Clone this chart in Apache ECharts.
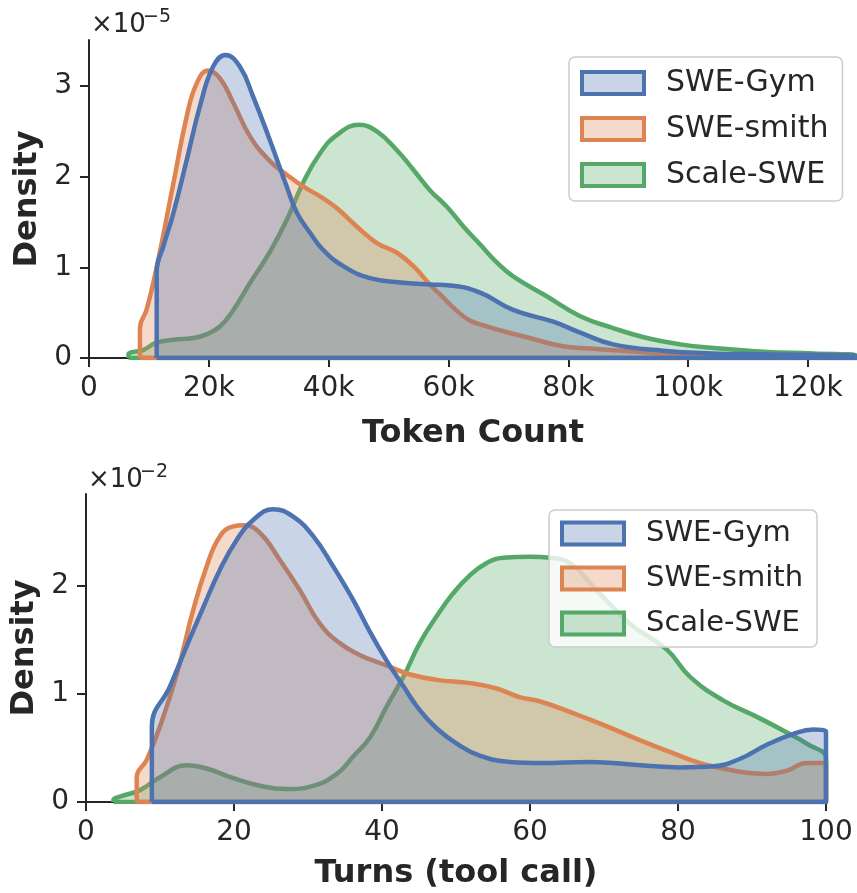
<!DOCTYPE html>
<html>
<head>
<meta charset="utf-8">
<script src="https://cdn.jsdelivr.net/npm/echarts@6/dist/echarts.min.js"></script>
<style>
html,body{margin:0;padding:0;background:#fff;}
#chart{width:857px;height:893px;}
</style>
</head>
<body>
<div id="chart"></div>
<script>
// ---------- DATA ----------
const seriesNames = ['SWE-Gym', 'SWE-smith', 'Scale-SWE'];
const seriesColors = ['#4C72B0', '#DD8452', '#55A868'];

// Top panel: Token Count (thousands of tokens), density in units of 1e-5
const tokenXTicks = [0, 20, 40, 60, 80, 100, 120];
const tokenYTicks = [0, 1, 2, 3];
const gymTokenX = [11.3, 11.3, 12.5, 14.1, 16.3, 18.5, 20.7, 22.8, 25.2, 27.4, 30.2, 33.0, 34.7, 36.9, 39.1, 42.5, 46.9, 52.5, 56.9, 60.3, 65.3, 70.8, 77.5, 82.0, 87.5, 95.8, 104.0, 112.5, 128.0, 128.0, 11.3];
const gymTokenY = [0, 0.95, 1.25, 1.60, 2.18, 2.77, 3.21, 3.34, 3.21, 2.88, 2.40, 1.89, 1.60, 1.38, 1.19, 1.01, 0.88, 0.83, 0.81, 0.80, 0.72, 0.53, 0.40, 0.28, 0.15, 0.08, 0.05, 0.04, 0.02, 0, 0];
const smithTokenX = [8.5, 8.5, 9.6, 11.3, 14.1, 16.3, 18.0, 19.9, 21.9, 24.1, 26.9, 30.2, 33.0, 35.8, 39.1, 41.4, 44.7, 48.0, 51.4, 54.2, 56.9, 58.6, 62.5, 65.3, 73.6, 79.1, 84.8, 93.2, 101.5, 120.0, 128.0, 128.0, 8.5];
const smithTokenY = [0, 0.33, 0.53, 1.00, 1.93, 2.66, 3.03, 3.17, 3.08, 2.81, 2.44, 2.17, 2.02, 1.89, 1.76, 1.65, 1.45, 1.27, 1.16, 1.01, 0.81, 0.70, 0.46, 0.37, 0.22, 0.13, 0.10, 0.06, 0.03, 0.01, 0.01, 0, 0];
const scaleTokenX = [6.6, 6.6, 9.1, 11.3, 14.1, 17.4, 19.6, 21.9, 24.1, 26.9, 30.2, 33.0, 35.8, 38.6, 41.4, 45.1, 48.0, 51.4, 54.2, 56.9, 59.7, 62.5, 65.3, 68.1, 70.8, 76.4, 82.0, 87.5, 93.1, 98.7, 104.2, 112.6, 120.9, 128.0, 128.0, 6.6];
const scaleTokenY = [0, 0.04, 0.09, 0.17, 0.20, 0.22, 0.26, 0.35, 0.53, 0.83, 1.17, 1.52, 1.94, 2.26, 2.46, 2.57, 2.50, 2.29, 2.07, 1.85, 1.67, 1.45, 1.25, 1.05, 0.90, 0.68, 0.46, 0.33, 0.22, 0.15, 0.11, 0.07, 0.05, 0.03, 0, 0];

// Bottom panel: Turns (tool call), density in units of 1e-2
const turnXTicks = [0, 20, 40, 60, 80, 100];
const turnYTicks = [0, 1, 2];
const gymTurnX = [8.9, 8.9, 11.35, 13.6, 15.9, 18.1, 20.4, 22.6, 25.3, 28.0, 30.7, 33.4, 36.1, 38.4, 40.6, 42.9, 45.1, 47.4, 50.1, 53.2, 57.3, 61.4, 68.1, 74.9, 80.3, 84.8, 88.4, 92.0, 95.6, 98.3, 100, 100, 8.9];
const gymTurnY = [0, 0.70, 1.07, 1.44, 1.81, 2.15, 2.43, 2.61, 2.71, 2.64, 2.46, 2.18, 1.87, 1.57, 1.31, 1.07, 0.85, 0.68, 0.54, 0.43, 0.37, 0.36, 0.37, 0.34, 0.32, 0.33, 0.40, 0.53, 0.63, 0.67, 0.65, 0, 0];
const smithTurnX = [6.85, 6.85, 8.2, 10.0, 12.3, 14.5, 16.3, 18.1, 19.9, 21.3, 23.5, 26.2, 28.9, 31.6, 34.3, 37.0, 38.4, 41.1, 43.8, 47.4, 51.9, 55.5, 58.6, 61.4, 65.9, 70.4, 74.9, 79.4, 83.0, 86.1, 89.3, 92.0, 94.7, 97.4, 100, 100, 6.85];
const smithTurnY = [0, 0.23, 0.39, 0.70, 1.19, 1.78, 2.18, 2.46, 2.55, 2.56, 2.49, 2.24, 1.96, 1.65, 1.47, 1.36, 1.32, 1.25, 1.18, 1.13, 1.10, 1.05, 0.97, 0.93, 0.82, 0.70, 0.57, 0.45, 0.36, 0.31, 0.27, 0.26, 0.29, 0.36, 0.36, 0, 0];
const scaleTurnX = [3.7, 3.7, 4.6, 7.3, 10.0, 13.6, 16.3, 19.9, 23.5, 27.1, 30.7, 33.9, 36.1, 38.4, 40.6, 42.9, 45.1, 47.4, 49.6, 51.9, 54.1, 56.4, 60.0, 62.7, 65.4, 69.0, 73.5, 78.5, 81.6, 86.1, 90.6, 95.1, 97.4, 100, 100, 3.7];
const scaleTurnY = [0, 0.02, 0.05, 0.11, 0.23, 0.34, 0.31, 0.22, 0.15, 0.12, 0.15, 0.26, 0.42, 0.60, 0.88, 1.16, 1.47, 1.72, 1.93, 2.10, 2.21, 2.26, 2.27, 2.26, 2.21, 1.96, 1.65, 1.41, 1.16, 0.94, 0.79, 0.63, 0.54, 0.40, 0, 0];

// ---------- CHART ----------
const FONT = 'DejaVu Sans';
const INK = '#262626';
const zip = (xs, ys) => xs.map((x, i) => [x, ys[i]]);
function hexA(hex, a) {
  const n = parseInt(hex.slice(1), 16);
  return `rgba(${(n >> 16) & 255},${(n >> 8) & 255},${n & 255},${a})`;
}
const FILL_A = 0.3;

const chart = echarts.init(document.getElementById('chart'), null, {renderer: 'canvas'});

function mkSeries(name, grid, data) {
  const c = seriesColors[seriesNames.indexOf(name)];
  const zMap = {'Scale-SWE': 1, 'SWE-smith': 2, 'SWE-Gym': 3};
  return {
    name, type: 'line', xAxisIndex: grid, yAxisIndex: grid,
    data, showSymbol: false, symbol: 'none', smooth: 0.45,
    z: zMap[name],
    lineStyle: {color: c, width: 4.5, join: 'round'},
    itemStyle: {color: c},
    areaStyle: {color: hexA(c, FILL_A), opacity: 1, origin: 'start'},
    emphasis: {disabled: true},
    animation: false
  };
}

function xAxis(grid, max, ticks, fmt, name, nameGap) {
  return {
    type: 'value', gridIndex: grid, min: 0, max: max,
    name, nameLocation: 'middle', nameGap,
    nameTextStyle: {fontFamily: FONT, fontSize: 32, fontWeight: 'bold', color: INK},
    axisLine: {show: true, onZero: false, lineStyle: {color: INK, width: 2}},
    axisTick: {show: true, length: 9, lineStyle: {color: INK, width: 2}, customValues: ticks},
    axisLabel: {fontFamily: FONT, fontSize: 28, color: INK, margin: 17, formatter: fmt, customValues: ticks},
    splitLine: {show: false}
  };
}
function yAxis(grid, max, ticks, nameGap) {
  return {
    type: 'value', gridIndex: grid, min: 0, max: max,
    name: 'Density', nameLocation: 'middle', nameGap,
    nameTextStyle: {fontFamily: FONT, fontSize: 32, fontWeight: 'bold', color: INK},
    axisLine: {show: true, onZero: false, lineStyle: {color: INK, width: 2}},
    axisTick: {show: true, length: 9, lineStyle: {color: INK, width: 2}, customValues: ticks},
    axisLabel: {fontFamily: FONT, fontSize: 28, color: INK, margin: 17, customValues: ticks},
    splitLine: {show: false}
  };
}

function legendData() {
  return seriesNames.map((n, i) => ({
    name: n, icon: 'rect',
    itemStyle: {color: hexA(seriesColors[i], FILL_A), borderColor: seriesColors[i], borderWidth: 4}
  }));
}
function legend(left, top, gap, pad, fs) {
  return {
    data: legendData(), orient: 'vertical', left, top,
    itemWidth: 62, itemHeight: 22, itemGap: gap, padding: pad,
    backgroundColor: 'rgba(255,255,255,0.8)', borderColor: '#cccccc', borderWidth: 1.5, borderRadius: 6,
    selectedMode: false, z: 10,
    textStyle: {fontFamily: FONT, fontSize: fs, color: INK, padding: [0, 0, 0, 17]}
  };
}

const option = {
  backgroundColor: '#ffffff',
  animation: false,
  grid: [
    {left: 89, top: 40, right: 0, height: 318},
    {left: 86, top: 494, right: 31, height: 308}
  ],
  xAxis: [
    xAxis(0, 128.2, tokenXTicks, v => (v === 0 ? '0' : v + 'k'), 'Token Count', 60),
    xAxis(1, 100, turnXTicks, v => String(v), 'Turns (tool call)', 56)
  ],
  yAxis: [
    yAxis(0, 3.505, tokenYTicks, 44),
    yAxis(1, 2.85, turnYTicks, 44)
  ],
  legend: [
    legend(569, 57, 16, [11, 14, 11, 11], 30),
    legend(549, 510, 16, [9, 14, 9, 11], 29)
  ],
  graphic: [
    {type: 'text', left: 91, top: 12, z: 10, style: {text: '×10', font: '26px "DejaVu Sans"', fill: INK}},
    {type: 'text', left: 143, top: 8, z: 10, style: {text: '−5', font: '19px "DejaVu Sans"', fill: INK}},
    {type: 'text', left: 88, top: 467, z: 10, style: {text: '×10', font: '26px "DejaVu Sans"', fill: INK}},
    {type: 'text', left: 140, top: 463, z: 10, style: {text: '−2', font: '19px "DejaVu Sans"', fill: INK}}
  ],
  series: [
    mkSeries('Scale-SWE', 0, zip(scaleTokenX, scaleTokenY)),
    mkSeries('SWE-smith', 0, zip(smithTokenX, smithTokenY)),
    mkSeries('SWE-Gym', 0, zip(gymTokenX, gymTokenY)),
    mkSeries('Scale-SWE', 1, zip(scaleTurnX, scaleTurnY)),
    mkSeries('SWE-smith', 1, zip(smithTurnX, smithTurnY)),
    mkSeries('SWE-Gym', 1, zip(gymTurnX, gymTurnY))
  ]
};
chart.setOption(option);
</script>
</body>
</html>
